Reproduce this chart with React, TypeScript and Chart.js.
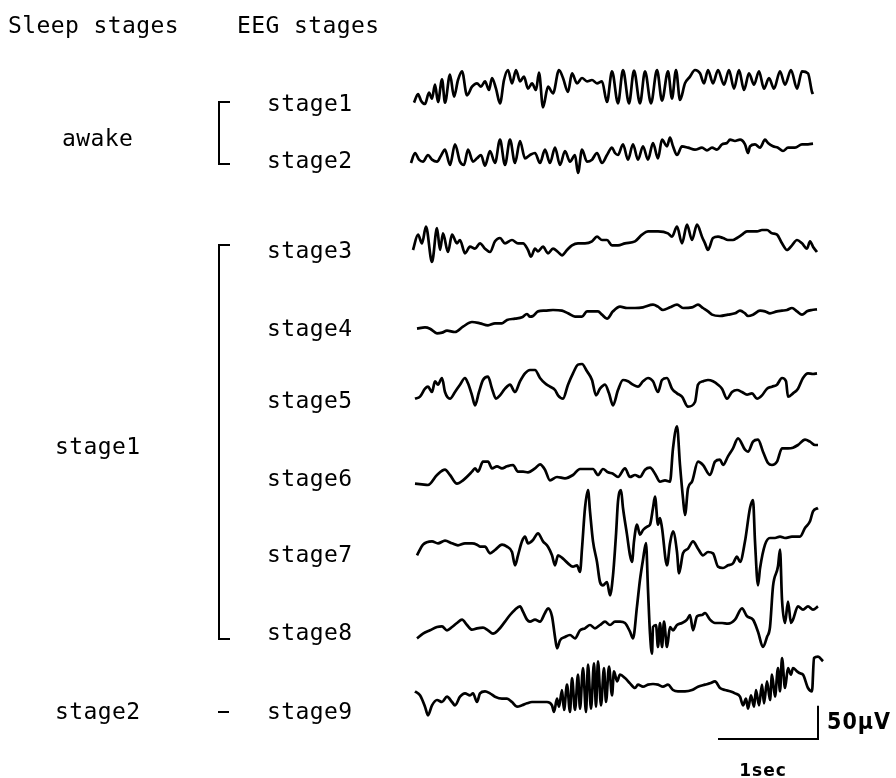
import React, { useEffect, useRef } from "react";
import { Chart, registerables } from "chart.js";

Chart.register(...registerables);

// ---- labels ----
const EEG_STAGE_LABELS = ["stage1", "stage2", "stage3", "stage4", "stage5", "stage6", "stage7", "stage8", "stage9"];
const SLEEP_STAGE_LABELS = ["awake", "stage1", "stage2"];
const HEADERS = ["Sleep stages", "EEG stages"];
const SCALE_TIME_LABEL = "1sec";
const SCALE_AMP_LABEL = "50\u03bcV";

// ---- scale bar values ----
const SCALE_SEC = 1;
const SCALE_UV = 50;

// ---- traces: [time (s), amplitude (µV)] ----
const STAGE1: [number, number][] = [[0.09,-24],[0.13,-11],[0.16,-21],[0.20,-26],[0.24,-9],[0.27,-18],[0.30,3],[0.33,-23],[0.37,11],[0.40,-24],[0.45,18],[0.49,-15],[0.53,10],[0.57,23],[0.62,-13],[0.67,0],[0.72,5],[0.76,0],[0.80,8],[0.84,-5],[0.87,13],[0.91,-3],[0.95,-25],[0.99,10],[1.03,25],[1.07,5],[1.11,25],[1.15,8],[1.19,15],[1.23,-3],[1.27,5],[1.31,-5],[1.34,21],[1.38,-31],[1.43,0],[1.48,-10],[1.54,25],[1.58,13],[1.63,-8],[1.67,20],[1.72,5],[1.77,13],[1.82,8],[1.87,10],[1.92,5],[1.97,8],[2.02,-23],[2.07,23],[2.13,-25],[2.18,25],[2.24,-25],[2.29,24],[2.35,-25],[2.40,23],[2.46,-25],[2.52,25],[2.57,-21],[2.63,23],[2.67,-18],[2.71,25],[2.75,-20],[2.80,5],[2.85,15],[2.90,25],[2.95,20],[2.99,5],[3.03,25],[3.08,5],[3.13,25],[3.19,3],[3.24,25],[3.29,-3],[3.34,25],[3.39,-5],[3.44,20],[3.49,3],[3.54,23],[3.59,-3],[3.64,13],[3.69,-3],[3.75,23],[3.80,3],[3.86,25],[3.92,-3],[3.97,23],[4.03,20],[4.07,-8],[4.08,-11]];
const STAGE2: [number, number][] = [[0.06,-15],[0.10,0],[0.14,-10],[0.18,-13],[0.23,-3],[0.27,-10],[0.32,-13],[0.36,-4],[0.40,5],[0.45,-18],[0.50,13],[0.55,-13],[0.59,-18],[0.63,5],[0.68,-13],[0.72,-8],[0.76,-3],[0.80,-19],[0.85,3],[0.90,-15],[0.95,20],[1.00,-18],[1.05,20],[1.10,-15],[1.15,18],[1.20,-8],[1.25,-3],[1.30,0],[1.35,-15],[1.40,5],[1.45,-15],[1.50,8],[1.55,-18],[1.60,3],[1.65,-13],[1.70,-3],[1.73,-30],[1.77,5],[1.82,-13],[1.87,-10],[1.92,0],[1.97,-15],[2.02,-3],[2.07,8],[2.10,0],[2.13,-3],[2.18,13],[2.23,-10],[2.28,13],[2.33,-10],[2.38,10],[2.43,-10],[2.48,15],[2.53,-8],[2.57,20],[2.62,10],[2.65,23],[2.68,10],[2.72,-3],[2.77,10],[2.83,8],[2.90,5],[2.97,8],[3.02,4],[3.07,8],[3.12,5],[3.17,13],[3.22,15],[3.25,20],[3.30,18],[3.35,20],[3.40,13],[3.43,0],[3.45,10],[3.50,13],[3.55,8],[3.60,20],[3.63,15],[3.68,10],[3.73,8],[3.78,3],[3.83,8],[3.90,8],[3.97,13],[4.03,13],[4.08,14]];
const STAGE3: [number, number][] = [[0.08,-10],[0.13,13],[0.17,0],[0.21,25],[0.27,-28],[0.32,23],[0.35,-10],[0.38,15],[0.43,-13],[0.47,13],[0.52,0],[0.55,5],[0.60,-15],[0.65,-5],[0.70,-8],[0.75,0],[0.80,-8],[0.85,-13],[0.90,3],[0.95,8],[1.00,0],[1.07,5],[1.13,0],[1.18,0],[1.23,-10],[1.26,-20],[1.30,-8],[1.33,-12],[1.38,-5],[1.43,-15],[1.48,-8],[1.53,-13],[1.57,-18],[1.62,-10],[1.67,-3],[1.73,0],[1.80,0],[1.87,3],[1.92,10],[1.97,5],[2.02,5],[2.07,-3],[2.13,-3],[2.20,0],[2.30,3],[2.37,13],[2.43,18],[2.53,18],[2.63,15],[2.67,10],[2.72,25],[2.77,0],[2.82,28],[2.87,5],[2.92,28],[2.97,10],[3.00,0],[3.03,-10],[3.08,8],[3.13,10],[3.18,8],[3.23,5],[3.28,5],[3.32,8],[3.37,13],[3.42,18],[3.47,18],[3.52,18],[3.57,20],[3.62,20],[3.67,15],[3.72,13],[3.77,0],[3.82,-10],[3.87,-3],[3.92,5],[3.97,0],[4.02,-8],[4.05,3],[4.08,-5],[4.12,-13]];
const STAGE4: [number, number][] = [[0.12,-18],[0.20,-16],[0.25,-18],[0.32,-25],[0.37,-24],[0.42,-21],[0.50,-23],[0.58,-15],[0.67,-8],[0.75,-10],[0.83,-13],[0.90,-10],[0.97,-10],[1.02,-5],[1.10,-3],[1.17,-1],[1.22,4],[1.25,0],[1.28,1],[1.33,8],[1.40,9],[1.48,10],[1.57,9],[1.63,5],[1.70,0],[1.77,0],[1.82,8],[1.87,8],[1.93,8],[1.97,3],[2.02,-3],[2.08,8],[2.15,15],[2.22,13],[2.30,13],[2.38,14],[2.48,18],[2.53,15],[2.58,10],[2.65,14],[2.72,18],[2.78,13],[2.87,14],[2.93,18],[2.98,13],[3.03,8],[3.07,3],[3.15,1],[3.23,3],[3.30,5],[3.35,9],[3.40,5],[3.43,1],[3.48,3],[3.55,9],[3.60,8],[3.65,5],[3.72,8],[3.77,9],[3.82,10],[3.87,13],[3.92,8],[3.97,3],[4.02,8],[4.07,10],[4.12,11]];
const STAGE5: [number, number][] = [[0.10,-18],[0.15,-15],[0.20,-3],[0.23,0],[0.27,-8],[0.30,8],[0.33,3],[0.37,13],[0.40,-8],[0.45,-18],[0.50,-8],[0.55,3],[0.60,13],[0.63,5],[0.67,-13],[0.70,-28],[0.74,-8],[0.78,10],[0.83,15],[0.87,-3],[0.91,-18],[0.95,-13],[1.00,-3],[1.05,3],[1.10,-8],[1.15,8],[1.20,20],[1.25,25],[1.30,25],[1.35,13],[1.40,5],[1.45,0],[1.50,-5],[1.53,-13],[1.58,-18],[1.63,3],[1.68,20],[1.73,33],[1.77,34],[1.82,23],[1.87,10],[1.91,-13],[1.95,-3],[2.00,3],[2.04,-10],[2.08,-28],[2.13,-5],[2.18,10],[2.23,8],[2.28,3],[2.33,0],[2.38,8],[2.43,13],[2.48,8],[2.53,-8],[2.57,10],[2.62,13],[2.67,-3],[2.72,-10],[2.77,-15],[2.83,-30],[2.90,-23],[2.93,3],[2.98,8],[3.03,10],[3.08,8],[3.13,3],[3.17,-3],[3.22,-18],[3.27,-8],[3.32,-5],[3.37,-8],[3.42,-12],[3.47,-10],[3.52,-18],[3.57,-13],[3.62,-3],[3.67,0],[3.72,3],[3.77,13],[3.81,8],[3.83,-15],[3.88,-10],[3.93,-3],[3.98,13],[4.03,20],[4.08,19],[4.12,20]];
const STAGE6: [number, number][] = [[0.10,-18],[0.17,-19],[0.23,-20],[0.32,-5],[0.40,3],[0.45,-5],[0.52,-18],[0.58,-13],[0.67,0],[0.70,5],[0.73,0],[0.78,15],[0.83,15],[0.87,5],[0.92,8],[0.97,5],[1.02,8],[1.08,10],[1.13,0],[1.18,0],[1.23,-1],[1.30,5],[1.35,11],[1.40,3],[1.45,-13],[1.52,-8],[1.60,-10],[1.68,-5],[1.75,4],[1.82,4],[1.88,4],[1.93,-5],[1.98,4],[2.03,-1],[2.08,-3],[2.13,-8],[2.20,5],[2.25,-8],[2.30,-5],[2.35,-8],[2.40,3],[2.45,6],[2.50,-3],[2.55,-15],[2.60,-13],[2.65,-15],[2.68,35],[2.72,68],[2.75,10],[2.78,-40],[2.80,-65],[2.83,-25],[2.87,-15],[2.93,15],[2.98,10],[3.05,-5],[3.10,15],[3.15,18],[3.18,10],[3.23,23],[3.28,35],[3.33,50],[3.40,33],[3.43,30],[3.48,45],[3.53,48],[3.58,30],[3.63,13],[3.67,10],[3.72,15],[3.77,35],[3.83,35],[3.88,36],[3.93,40],[4.00,48],[4.05,45],[4.10,40],[4.13,40]];
const STAGE7: [number, number][] = [[0.12,-13],[0.18,3],[0.27,8],[0.33,5],[0.40,9],[0.47,5],[0.53,2],[0.60,5],[0.67,5],[0.72,3],[0.75,0],[0.80,0],[0.85,-10],[0.90,-5],[0.97,3],[1.02,0],[1.07,-8],[1.10,-28],[1.13,-13],[1.17,8],[1.20,15],[1.23,5],[1.28,10],[1.33,20],[1.38,8],[1.43,0],[1.47,-13],[1.50,-28],[1.53,-13],[1.58,-18],[1.63,-25],[1.68,-30],[1.72,-28],[1.75,-38],[1.77,-3],[1.80,58],[1.83,85],[1.85,53],[1.88,8],[1.92,-23],[1.95,-53],[1.98,-58],[2.02,-53],[2.05,-73],[2.08,-43],[2.11,18],[2.13,68],[2.16,85],[2.18,58],[2.22,18],[2.25,-13],[2.27,-23],[2.29,8],[2.32,33],[2.35,18],[2.38,25],[2.42,30],[2.45,33],[2.48,58],[2.50,75],[2.53,33],[2.55,43],[2.57,28],[2.62,-28],[2.65,5],[2.68,23],[2.72,-8],[2.74,-40],[2.78,-10],[2.83,-3],[2.88,8],[2.93,-3],[2.98,-13],[3.03,-8],[3.08,-10],[3.13,-30],[3.18,-32],[3.23,-28],[3.28,-25],[3.32,-15],[3.35,-23],[3.40,8],[3.45,58],[3.48,70],[3.50,8],[3.53,-58],[3.55,-33],[3.60,3],[3.65,13],[3.70,13],[3.75,15],[3.80,13],[3.87,15],[3.95,15],[4.00,28],[4.05,38],[4.08,53],[4.13,58]];
const STAGE8: [number, number][] = [[0.12,-20],[0.18,-13],[0.25,-8],[0.32,-3],[0.37,-2],[0.42,-8],[0.47,-3],[0.52,3],[0.57,8],[0.62,0],[0.67,-7],[0.72,-5],[0.78,-4],[0.83,-8],[0.88,-13],[0.93,-8],[1.00,5],[1.05,15],[1.10,23],[1.15,28],[1.18,20],[1.22,8],[1.25,5],[1.30,8],[1.35,5],[1.40,18],[1.43,25],[1.47,13],[1.50,-18],[1.52,-35],[1.55,-23],[1.60,-18],[1.65,-15],[1.70,-20],[1.75,-8],[1.80,-5],[1.85,0],[1.90,-5],[1.95,0],[2.00,5],[2.05,0],[2.10,5],[2.15,5],[2.20,3],[2.25,-10],[2.28,-20],[2.32,28],[2.35,68],[2.38,98],[2.41,123],[2.43,53],[2.45,-13],[2.47,-43],[2.48,-3],[2.51,0],[2.53,-33],[2.55,3],[2.57,-33],[2.59,5],[2.62,-33],[2.65,-3],[2.68,-8],[2.72,0],[2.77,3],[2.82,8],[2.85,15],[2.88,-8],[2.92,13],[2.97,15],[3.00,18],[3.05,8],[3.10,3],[3.17,3],[3.23,2],[3.30,8],[3.37,25],[3.42,13],[3.48,8],[3.53,-10],[3.58,-33],[3.62,-18],[3.65,-3],[3.68,58],[3.73,88],[3.75,113],[3.77,38],[3.80,3],[3.83,35],[3.86,3],[3.88,8],[3.93,28],[3.98,23],[4.03,28],[4.08,23],[4.13,28]];
const STAGE9: [number, number][] = [[0.10,3],[0.15,-3],[0.20,-20],[0.23,-33],[0.27,-18],[0.32,-10],[0.37,-13],[0.42,-5],[0.47,-13],[0.50,-18],[0.55,-5],[0.60,0],[0.65,-3],[0.68,0],[0.72,-13],[0.75,0],[0.80,3],[0.85,0],[0.90,-5],[0.97,-8],[1.02,-8],[1.07,-13],[1.12,-20],[1.17,-18],[1.22,-15],[1.27,-13],[1.32,-13],[1.37,-13],[1.42,-13],[1.47,-18],[1.49,-28],[1.52,-8],[1.54,-20],[1.57,5],[1.59,-25],[1.62,13],[1.65,-28],[1.67,23],[1.70,-25],[1.73,28],[1.75,-23],[1.78,38],[1.81,-28],[1.83,43],[1.86,-23],[1.89,45],[1.91,-20],[1.93,48],[1.96,-18],[1.99,38],[2.01,-13],[2.04,40],[2.07,-3],[2.09,33],[2.12,18],[2.15,28],[2.20,23],[2.25,15],[2.30,8],[2.33,13],[2.38,10],[2.43,13],[2.48,14],[2.53,13],[2.58,10],[2.63,13],[2.68,5],[2.73,3],[2.80,3],[2.87,5],[2.93,10],[3.00,13],[3.05,15],[3.10,18],[3.15,8],[3.20,5],[3.25,3],[3.30,0],[3.35,-5],[3.38,-18],[3.41,-8],[3.43,-23],[3.46,-3],[3.49,-20],[3.51,5],[3.54,-18],[3.57,13],[3.59,-15],[3.62,18],[3.65,-10],[3.67,28],[3.70,-5],[3.73,38],[3.75,3],[3.77,53],[3.80,8],[3.83,38],[3.86,28],[3.88,38],[3.92,33],[3.95,30],[3.98,28],[4.03,8],[4.07,3],[4.09,53],[4.13,55],[4.18,48]];

const TRACES = [STAGE1, STAGE2, STAGE3, STAGE4, STAGE5, STAGE6, STAGE7, STAGE8, STAGE9];

// ---- layout (not data) ----
const TRACE_BASELINE_UV = [-130, -229.5, -365, -475, -580, -707.5, -820, -937.5, -1040];
const SCALE_T_END = 4.13;
const SCALE_Y_BASE = -1108.5;
const EEG_LABEL_BASELINES = [111, 168, 257.5, 335.5, 407.5, 485.5, 561.5, 639.5, 718.5];
const SLEEP_LABEL_POS: [number, number][] = [[62, 146], [55, 453.5], [55, 718.5]];

const labelPlugin = {
  id: "eegLabels",
  afterDraw(chart: any) {
    const ctx: CanvasRenderingContext2D = chart.ctx;
    const xs = chart.scales.x;
    const ys = chart.scales.y;
    ctx.save();
    ctx.fillStyle = "#000";
    ctx.strokeStyle = "#000";
    ctx.textBaseline = "alphabetic";
    ctx.textAlign = "left";
    ctx.font = "23px 'DejaVu Sans Mono'";
    (ctx as any).letterSpacing = "0.4px";
    ctx.fillText(HEADERS[0], 8, 33);
    ctx.fillText(HEADERS[1], 237, 33);
    EEG_STAGE_LABELS.forEach((l, i) => ctx.fillText(l, 267, EEG_LABEL_BASELINES[i]));
    SLEEP_STAGE_LABELS.forEach((l, i) => ctx.fillText(l, SLEEP_LABEL_POS[i][0], SLEEP_LABEL_POS[i][1]));

    // brackets
    ctx.lineWidth = 2;
    const bracket = (top: number, bottom: number) => {
      ctx.beginPath();
      ctx.moveTo(230, top);
      ctx.lineTo(219, top);
      ctx.lineTo(219, bottom);
      ctx.lineTo(230, bottom);
      ctx.stroke();
    };
    bracket(102, 164);
    bracket(245, 639);
    ctx.beginPath();
    ctx.moveTo(218, 712);
    ctx.lineTo(229, 712);
    ctx.stroke();

    // scale bar labels
    const xEnd = xs.getPixelForValue(SCALE_T_END);
    const xStart = xs.getPixelForValue(SCALE_T_END - SCALE_SEC);
    const yBase = ys.getPixelForValue(SCALE_Y_BASE);
    const yTop = ys.getPixelForValue(SCALE_Y_BASE + SCALE_UV);
    ctx.font = "bold 23px 'DejaVu Sans Condensed'";
    (ctx as any).letterSpacing = "1px";
    ctx.textBaseline = "middle";
    ctx.fillText(SCALE_AMP_LABEL, xEnd + 9, (yBase + yTop) / 2 + 1);
    ctx.font = "bold 17px 'DejaVu Sans'";
    (ctx as any).letterSpacing = "1px";
    ctx.textAlign = "center";
    ctx.textBaseline = "alphabetic";
    ctx.fillText(SCALE_TIME_LABEL, (xStart + xEnd) / 2 - 5, yBase + 37);
    ctx.restore();
  },
};

export default function App() {
  const ref = useRef<HTMLCanvasElement | null>(null);
  useEffect(() => {
    if (!ref.current) return;
    const datasets: any[] = TRACES.map((tr, i) => ({
      label: EEG_STAGE_LABELS[i],
      data: tr.map(([t, v]) => ({ x: t, y: v + TRACE_BASELINE_UV[i] })),
      borderColor: "#000",
      borderWidth: 2.7,
      pointRadius: 0,
      cubicInterpolationMode: "monotone",
      fill: false,
    }));
    datasets.push({
      label: "scale",
      data: [
        { x: SCALE_T_END - SCALE_SEC, y: SCALE_Y_BASE },
        { x: SCALE_T_END, y: SCALE_Y_BASE },
        { x: SCALE_T_END, y: SCALE_Y_BASE + SCALE_UV },
      ],
      borderColor: "#000",
      borderWidth: 2,
      pointRadius: 0,
      tension: 0,
      fill: false,
    });
    const chart = new Chart(ref.current, {
      type: "line",
      data: { datasets },
      options: {
        animation: false,
        responsive: false,
        events: [],
        layout: { padding: { left: 405, right: 0, top: 0, bottom: 0 } },
        plugins: {
          legend: { display: false },
          tooltip: { enabled: false },
          title: { display: false },
        },
        scales: {
          x: { type: "linear", display: false, min: 0, max: 4.91 },
          y: { type: "linear", display: false, min: -1167, max: 0 },
        },
      },
      plugins: [labelPlugin],
    } as any);
    return () => chart.destroy();
  }, []);
  return (
    <div style={{ position: "absolute", left: 0, top: 0, width: 896, height: 778, background: "#fff" }}>
      <canvas ref={ref} width={896} height={778} />
    </div>
  );
}
